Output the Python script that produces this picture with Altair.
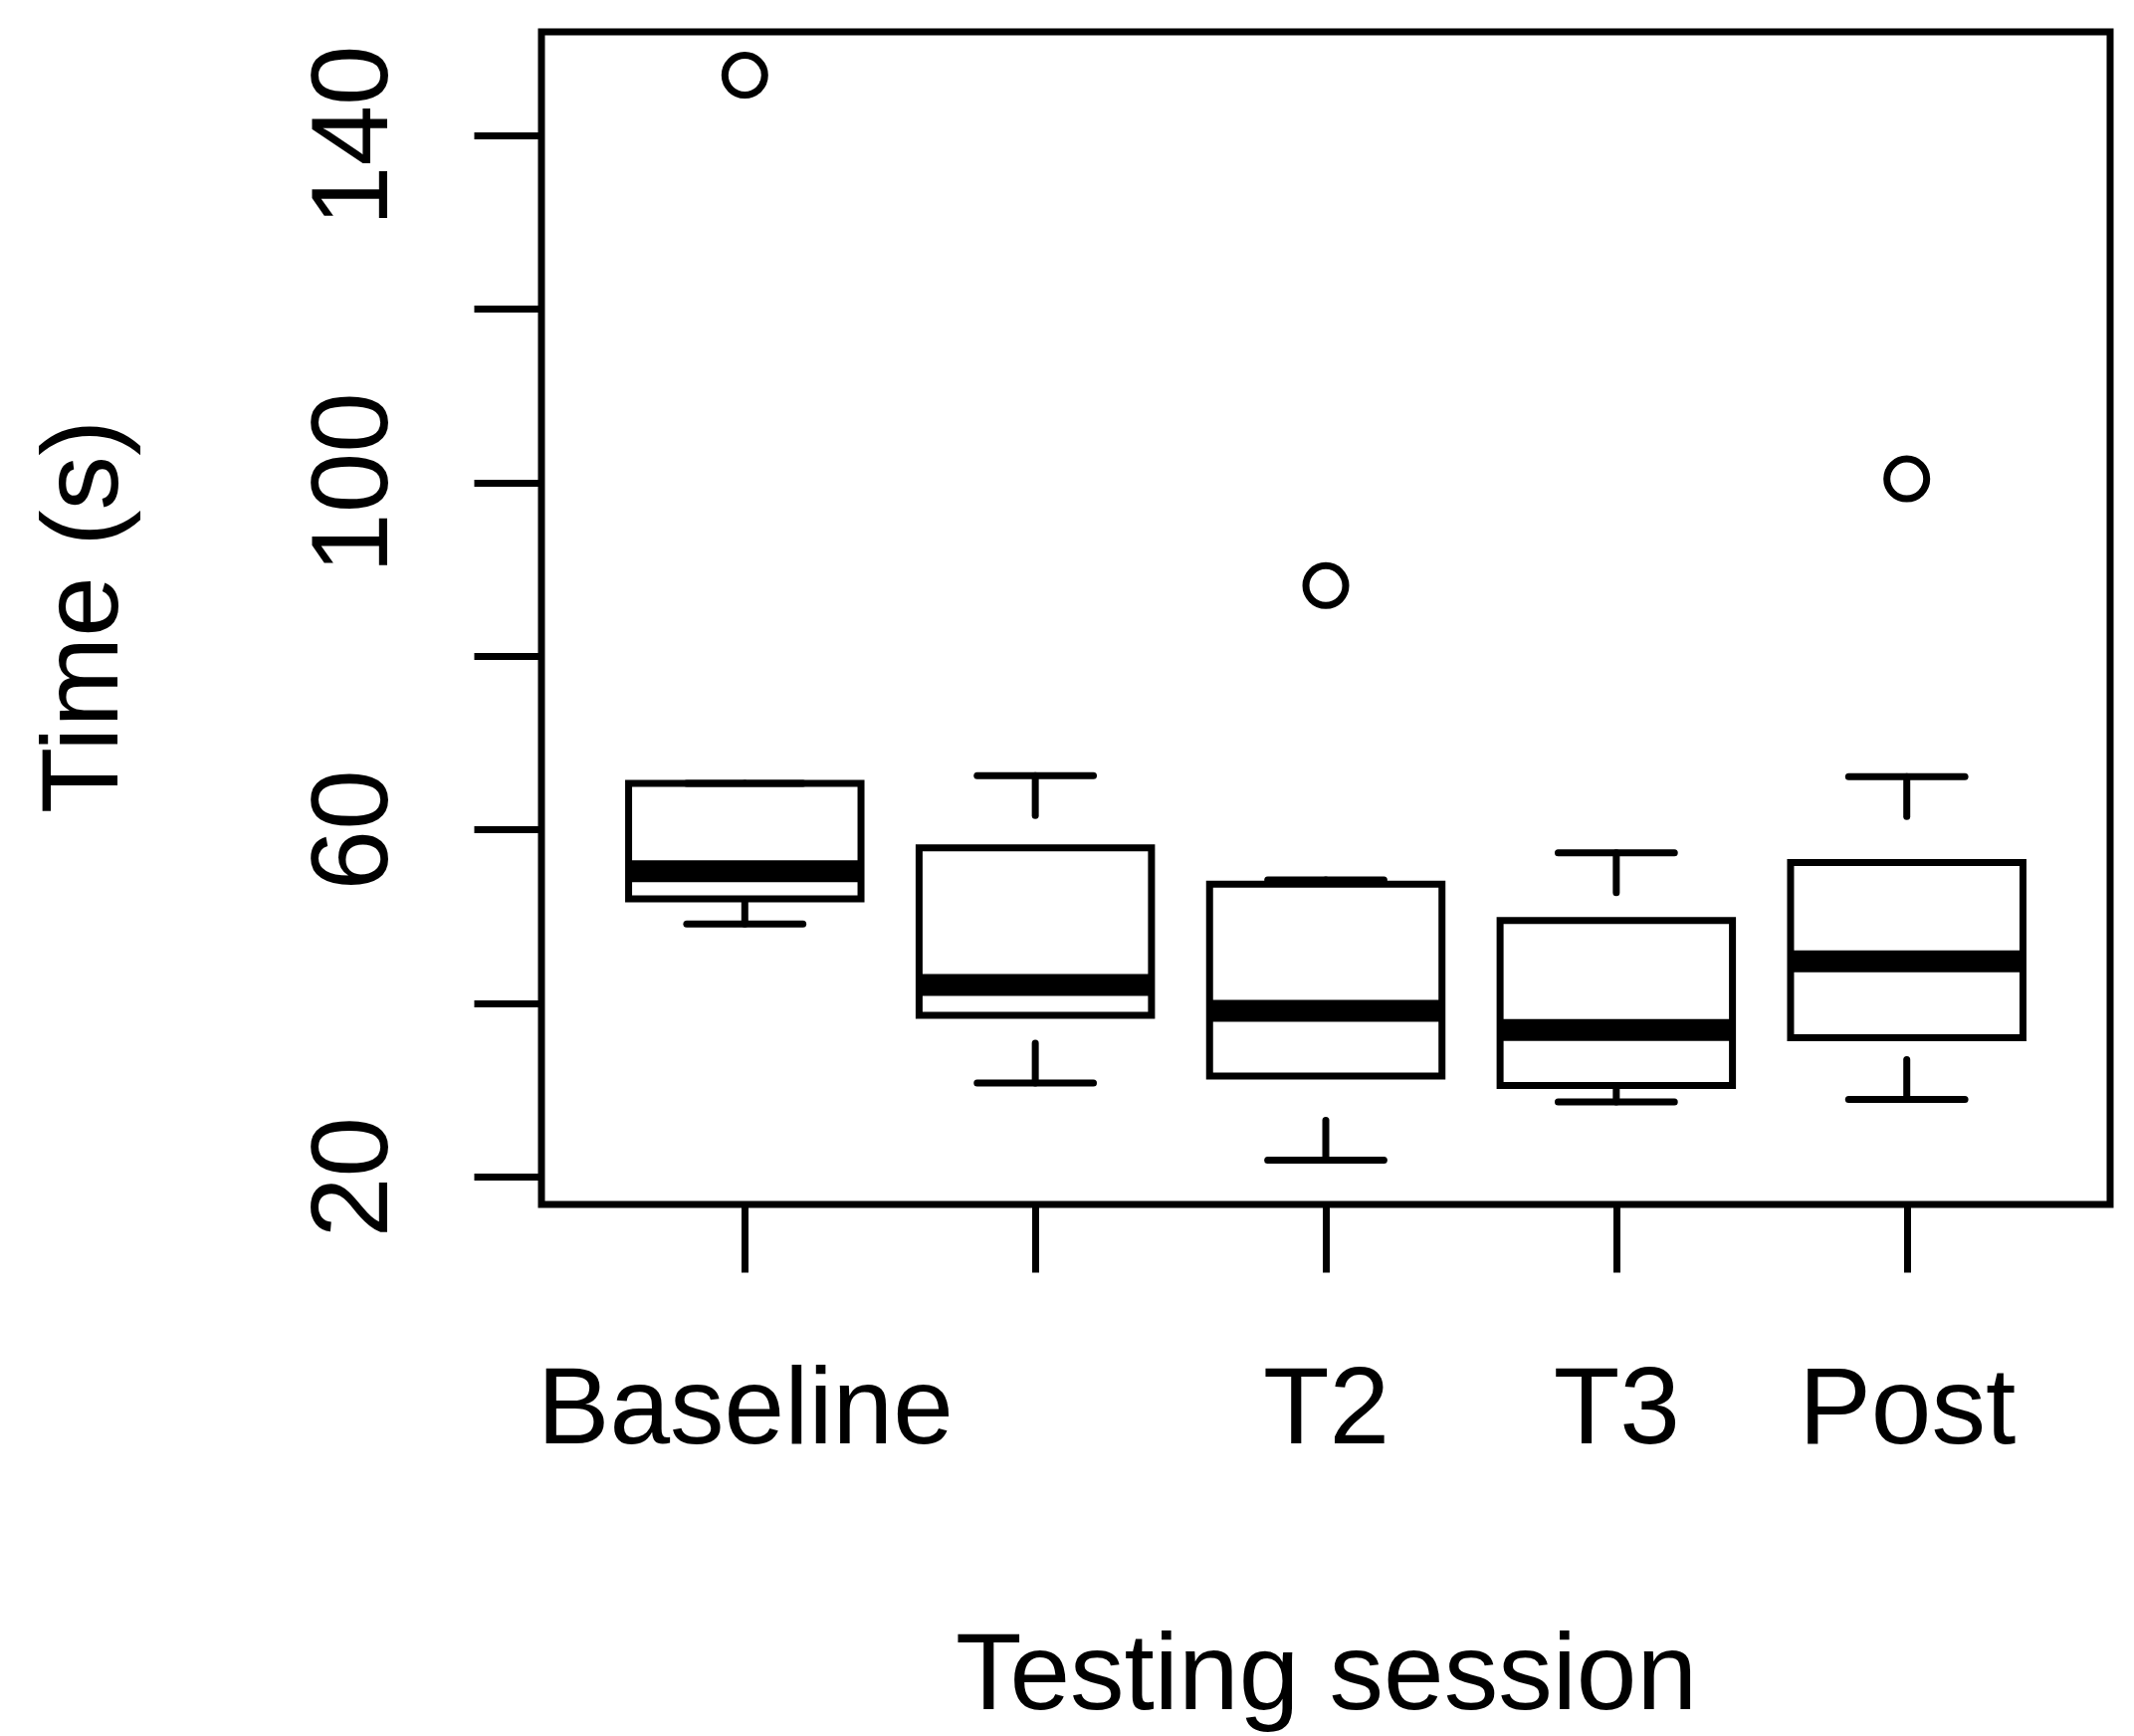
import json
import altair as alt
import pandas as pd

# ---- data ----
sessions = ["Baseline", "T1", "T2", "T3", "Post"]
tick_labels = ["Baseline", "", "T2", "T3", "Post"]
positions = [1, 2, 3, 4, 5]
whisker_low = [49.1, 30.8, 21.9, 28.6, 28.9]
q1 = [52.0, 38.6, 31.6, 30.5, 36.0]
medians = [55.2, 42.1, 39.1, 36.9, 44.8]
q3 = [65.3, 57.9, 53.7, 49.5, 56.2]
whisker_high = [65.3, 66.2, 54.2, 57.3, 66.1]
outlier_pos = [1, 3, 5]
outlier_values = [146.9, 88.1, 100.4]
y_ticks = [20, 40, 60, 80, 100, 120, 140]
y_tick_labels = ["20", "", "60", "", "100", "", "140"]

df = pd.DataFrame({
    "session": sessions,
    "pos": positions,
    "low": whisker_low,
    "q1": q1,
    "median": medians,
    "q3": q3,
    "high": whisker_high,
})
out_df = pd.DataFrame({"pos": outlier_pos, "value": outlier_values})

FONT = "Liberation Sans"
FS = 109
LW = 7

x_scale = alt.Scale(domain=[0.3, 5.7], nice=False, zero=False)
y_scale = alt.Scale(domain=[16.8, 151.9], nice=False, zero=False)

x_label_expr = json.dumps(tick_labels) + "[datum.value - 1]"
y_label_expr = json.dumps(y_tick_labels) + "[(datum.value - 20) / 20]"

x_axis = alt.Axis(
    values=positions, labelExpr=x_label_expr, title="Testing session",
    labelFont=FONT, labelFontSize=FS, labelColor="black", labelLimit=0,
    labelAlign="center", labelBaseline="alphabetic", labelPadding=171,
    labelOverlap=False, labelFlush=False, labelBound=False,
    tickSize=68, tickWidth=LW, tickColor="black", domain=False, grid=False,
    titleFont=FONT, titleFontSize=FS, titleFontWeight="normal", titleColor="black",
    titleBaseline="alphabetic", titleAlign="center", titleX=788, titleY=506, titleLimit=0,
)
y_axis = alt.Axis(
    values=y_ticks, labelExpr=y_label_expr, title="Time (s)",
    labelFont=FONT, labelFontSize=FS, labelColor="black", labelLimit=0,
    labelAngle=270, labelAlign="center", labelBaseline="alphabetic", labelPadding=88,
    labelOverlap=False, labelFlush=False, labelBound=False,
    tickSize=68, tickWidth=LW, tickColor="black", domain=False, grid=False,
    titleFont=FONT, titleFontSize=FS, titleFontWeight="normal", titleColor="black",
    titleAngle=270, titleBaseline="alphabetic", titleAlign="center", titleX=-427, titleY=587,
    titleLimit=0,
)

base = alt.Chart(df).transform_calculate(
    box_l="datum.pos - 0.4", box_r="datum.pos + 0.4",
    cap_l="datum.pos - 0.2", cap_r="datum.pos + 0.2",
)

DASH = [40, 48]

whisk_lo = base.mark_rule(strokeWidth=LW, strokeDash=DASH, strokeCap="round", color="black").encode(
    x=alt.X("pos:Q", scale=x_scale, axis=x_axis),
    y=alt.Y("low:Q", scale=y_scale, axis=y_axis),
    y2="q1:Q",
)
whisk_hi = base.mark_rule(strokeWidth=LW, strokeDash=DASH, strokeCap="round", color="black").encode(
    x=alt.X("pos:Q", scale=x_scale, axis=x_axis),
    y=alt.Y("high:Q", scale=y_scale, axis=y_axis),
    y2="q3:Q",
)
boxes = base.mark_rect(fill="white", stroke="black", strokeWidth=LW).encode(
    x=alt.X("box_l:Q", scale=x_scale, axis=x_axis),
    x2="box_r:Q",
    y=alt.Y("q1:Q", scale=y_scale, axis=y_axis),
    y2="q3:Q",
)
med = base.mark_rule(strokeWidth=22, color="black", strokeCap="butt").encode(
    x=alt.X("box_l:Q", scale=x_scale, axis=x_axis),
    x2="box_r:Q",
    y=alt.Y("median:Q", scale=y_scale, axis=y_axis),
)
cap_lo = base.mark_rule(strokeWidth=LW, color="black", strokeCap="round").encode(
    x=alt.X("cap_l:Q", scale=x_scale, axis=x_axis),
    x2="cap_r:Q",
    y=alt.Y("low:Q", scale=y_scale, axis=y_axis),
)
cap_hi = base.mark_rule(strokeWidth=LW, color="black", strokeCap="round").encode(
    x=alt.X("cap_l:Q", scale=x_scale, axis=x_axis),
    x2="cap_r:Q",
    y=alt.Y("high:Q", scale=y_scale, axis=y_axis),
)
outliers = alt.Chart(out_df).mark_point(
    shape="circle", filled=False, size=1600, strokeWidth=LW, color="black", opacity=1
).encode(
    x=alt.X("pos:Q", scale=x_scale, axis=x_axis),
    y=alt.Y("value:Q", scale=y_scale, axis=y_axis),
)

chart = alt.layer(whisk_lo, whisk_hi, boxes, med, cap_lo, cap_hi, outliers).properties(
    width=1576, height=1178,
    autosize=alt.AutoSizeParams(type="none"),
    padding={"left": 536, "top": 24, "right": 16, "bottom": 530},
    background="white",
).configure_view(stroke="black", strokeWidth=LW)

chart.save("out.html", embed_options={"renderer": "svg", "actions": False})
